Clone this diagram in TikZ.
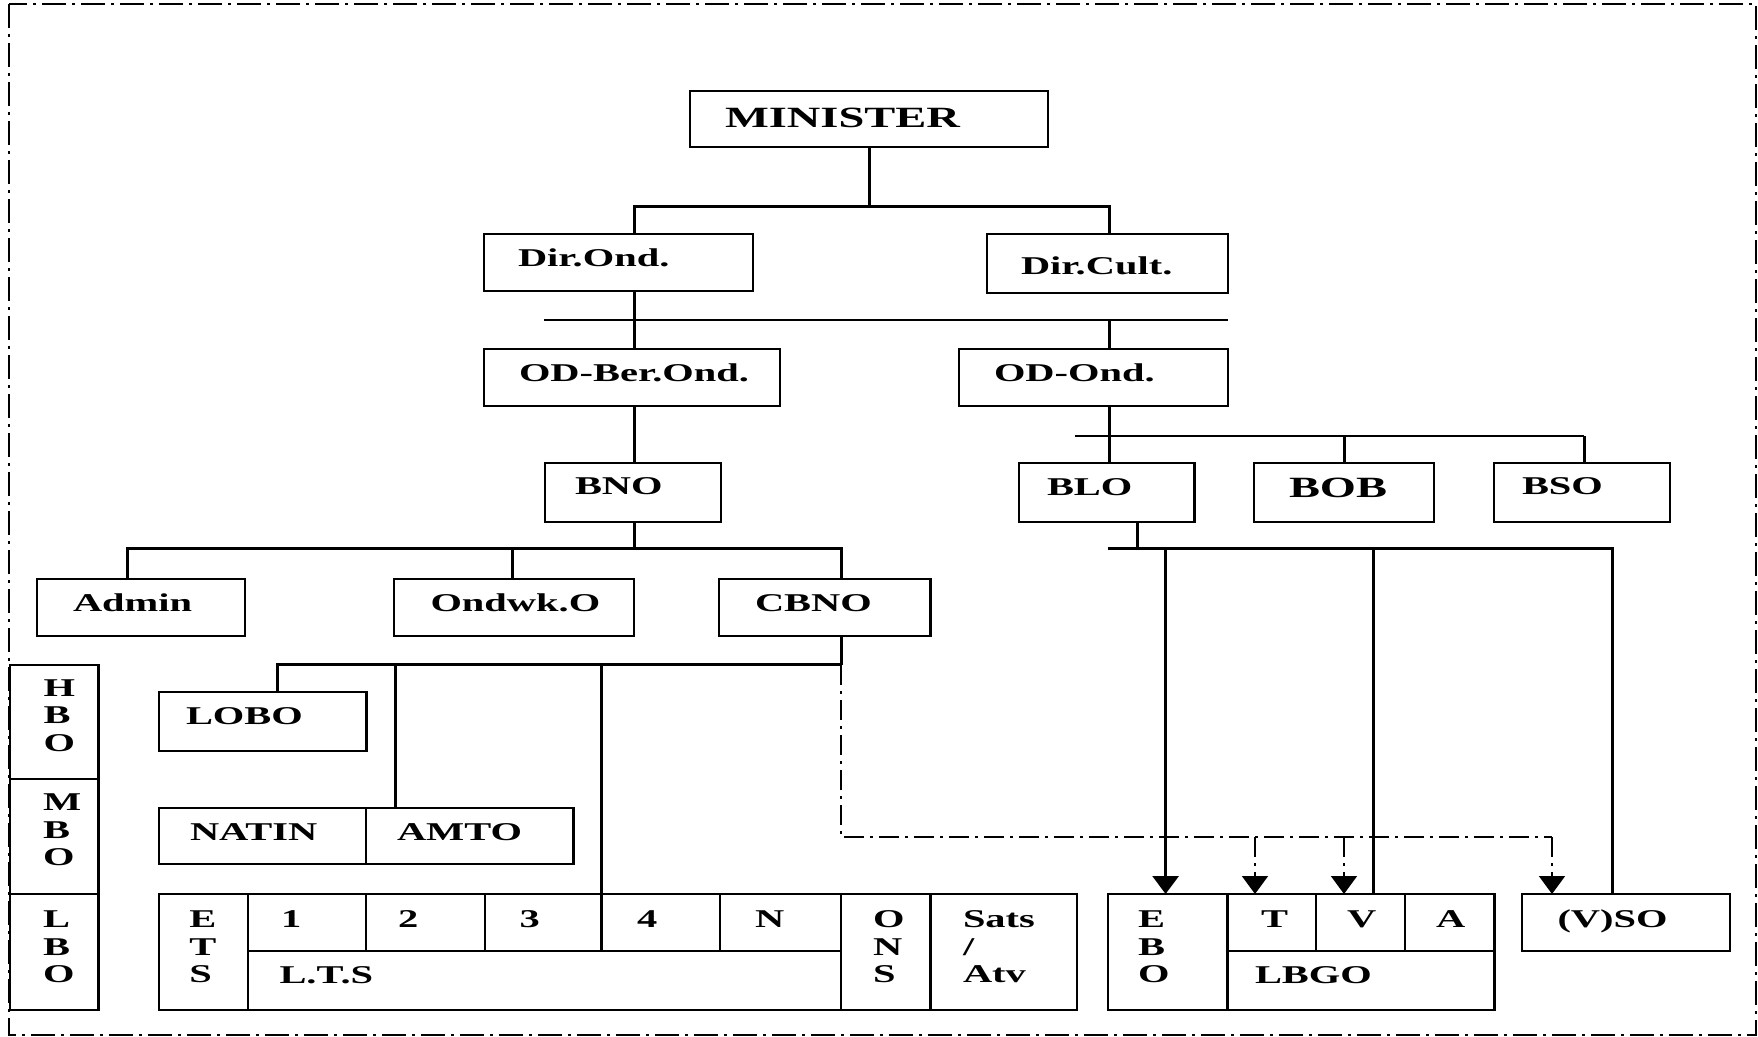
\documentclass[tikz,border=0pt]{standalone}
\usepackage{fontspec}
\setmainfont{Liberation Serif}
\usepackage{graphicx}
\usetikzlibrary{fit,arrows.meta}
\newcommand\widetxt[1]{\scalebox{1.58}[1]{#1}}
\begin{document}
\begin{tikzpicture}[x=0.5pt,y=-0.5pt,
  box/.style={draw, line width=1.45pt, inner sep=0pt, outer sep=0pt, rectangle},
  conn/.style={line width=1.5pt},
  thinln/.style={line width=0.9pt},
  dd/.style={line width=0.9pt, dash pattern=on 10pt off 3pt on 1.5pt off 3pt},
  frm/.style={line width=1pt, dash pattern=on 12pt off 3pt on 1.5pt off 3pt},
  arr/.style={-{Triangle[width=13pt,length=9pt]}},
  txt/.style={inner sep=0pt, outer sep=0pt, anchor=base west, font=\fontsize{12.8}{15}\selectfont\bfseries},
  txtbig/.style={txt, font=\fontsize{14.7}{17}\selectfont\bfseries}]
\useasboundingbox (0,0) rectangle (1758,1037);
\draw[frm] (9,4) rectangle (1756,1035);

% boxes
\node[box, fit={(690,91) (1048,147)}] (min) {};
\node[box, fit={(484,234) (753,291)}] (dirond) {};
\node[box, fit={(987,234) (1228,293)}] (dircult) {};
\node[box, fit={(484,349) (780,406)}] (odber) {};
\node[box, fit={(959,349) (1228,406)}] (odond) {};
\node[box, fit={(545,463) (721,522)}] (bno) {};
\node[box, fit={(1019,463) (1194.5,522)}] (blo) {};
\node[box, fit={(1254,463) (1434,522)}] (bob) {};
\node[box, fit={(1494,463) (1670,522)}] (bso) {};
\node[box, fit={(37,579) (245,636)}] (admin) {};
\node[box, fit={(394,579) (634,636)}] (ondwk) {};
\node[box, fit={(719,579) (930.5,636)}] (cbno) {};
\node[box, fit={(159,692) (366.7,751)}] (lobo) {};
\node[box, fit={(159,808) (366,864)}] (natin) {};
\node[box, fit={(366,808) (573.3,864)}] (amto) {};
\node[box, fit={(10,665) (98.7,779)}] (hbo) {};
\node[box, fit={(10,779) (98.7,894)}] (mbo) {};
\node[box, fit={(10,894) (98.7,1010)}] (lbo) {};
\node[box, fit={(159,894) (248,1010)}] (ets) {};
\node[box, fit={(248,894) (366,951)}] (c1) {};
\node[box, fit={(366,894) (485,951)}] (c2) {};
\node[box, fit={(485,894) (601.6,951)}] (c3) {};
\node[box, fit={(601.6,894) (720,951)}] (c4) {};
\node[box, fit={(720,894) (841,951)}] (cN) {};
\node[box, fit={(248,951) (841,1010)}] (lts) {};
\node[box, fit={(841,894) (930.5,1010)}] (ons) {};
\node[box, fit={(930.5,894) (1077,1010)}] (sats) {};
\node[box, fit={(1108,894) (1227.5,1010)}] (ebo) {};
\node[box, fit={(1227.5,894) (1316,951)}] (cT) {};
\node[box, fit={(1316,894) (1405,951)}] (cV) {};
\node[box, fit={(1405,894) (1494.5,951)}] (cA) {};
\node[box, fit={(1227.5,951) (1494.5,1010)}] (lbgo) {};
\node[box, fit={(1522,894) (1730,951)}] (vso) {};

% connectors
\draw[conn] (min.south) -- (min.south |- 0,207);
\draw[conn] (634,0 |- dirond.north) -- (634,207) -- (1109,207) -- (1109,0 |- dircult.north);
\draw[conn] (634,0 |- dirond.south) -- (634,0 |- odber.north);
\draw[thinln] (544,320) -- (1228,320);
\draw[conn] (1109,320) -- (1109,0 |- odond.north);
\draw[conn] (634,0 |- odber.south) -- (634,0 |- bno.north);
\draw[conn] (1109,0 |- odond.south) -- (1109,436);
\draw[thinln] (1075,436) -- (1584,436);
\draw[conn] (1109,436) -- (1109,0 |- blo.north);
\draw[conn] (1344.5,436) -- (1344.5,0 |- bob.north);
\draw[conn] (1584,436) -- (1584,0 |- bso.north);
\draw[conn] (634,0 |- bno.south) -- (634,549);
\draw[conn] (127,0 |- admin.north) -- (127,549) -- (841,549) -- (841,0 |- cbno.north);
\draw[conn] (512.6,549) -- (512.6,0 |- ondwk.north);
\draw[conn] (841,0 |- cbno.south) -- (841,665);
\draw[conn] (277,0 |- lobo.north) -- (277,665) -- (841,665);
\draw[conn] (395,665) -- (395,0 |- amto.north);
\draw[conn] (601.6,665) -- (601.6,0 |- c4.north);
\draw[dd] (841,665) -- (841,837) -- (1552,837);
\draw[dd,arr] (1255,837) -- (1255,0 |- cT.north);
\draw[dd,arr] (1344,837) -- (1344,0 |- cV.north);
\draw[dd,arr] (1552,837) -- (1552,0 |- vso.north);
\draw[conn] (1137,0 |- blo.south) -- (1137,549);
\draw[conn] (1107.6,549) -- (1612,549) -- (1612,0 |- vso.north);
\draw[conn,arr] (1165.6,549) -- (1165.6,0 |- ebo.north);
\draw[conn] (1373,549) -- (1373,0 |- cV.north);

% texts
\node[txtbig] (tmin) at (725,127.7) {\widetxt{MINISTER}};
\node[txt] (tdirond) at (518,266.3) {\widetxt{Dir.Ond.}};
\node[txt] (tdircult) at (1021,274.7) {\widetxt{Dir.Cult.}};
\node[txt] (todber) at (519,381.7) {\widetxt{OD-Ber.Ond.}};
\node[txt] (todond) at (994,381.7) {\widetxt{OD-Ond.}};
\node[txt] (tbno) at (575,495) {\widetxt{BNO}};
\node[txt] (tblo) at (1047,495.7) {\widetxt{BLO}};
\node[txtbig] (tbob) at (1289,497.7) {\widetxt{BOB}};
\node[txt] (tbso) at (1522,495) {\widetxt{BSO}};
\node[txt] (tadmin) at (73,611.7) {\widetxt{Admin}};
\node[txt] (tondwk) at (430.5,611.7) {\widetxt{Ondwk.O}};
\node[txt] (tcbno) at (755,611.7) {\widetxt{CBNO}};
\node[txt] (tlobo) at (186,724.3) {\widetxt{LOBO}};
\node[txt] (tnatin) at (190,840.7) {\widetxt{NATIN}};
\node[txt] (tamto) at (397,840.7) {\widetxt{AMTO}};
\node[txt] (th1) at (43.6,697) {\widetxt{H}};
\node[txt] (th2) at (43.6,724) {\widetxt{B}};
\node[txt] (th3) at (43.6,751) {\widetxt{O}};
\node[txt] (tm1) at (43,810) {\widetxt{M}};
\node[txt] (tm2) at (43,838) {\widetxt{B}};
\node[txt] (tm3) at (43,865) {\widetxt{O}};
\node[txt] (tl1) at (43,927) {\widetxt{L}};
\node[txt] (tl2) at (43,955) {\widetxt{B}};
\node[txt] (tl3) at (43,982) {\widetxt{O}};
\node[txt] (te1) at (189.4,927) {\widetxt{E}};
\node[txt] (te2) at (189.4,955) {\widetxt{T}};
\node[txt] (te3) at (189.4,982) {\widetxt{S}};
\node[txt] (tc1) at (281,927) {\widetxt{1}};
\node[txt] (tc2) at (398,927) {\widetxt{2}};
\node[txt] (tc3) at (519.5,927) {\widetxt{3}};
\node[txt] (tc4) at (637,927) {\widetxt{4}};
\node[txt] (tcN) at (755,927) {\widetxt{N}};
\node[txt] (tlts) at (279.5,983) {\widetxt{L.T.S}};
\node[txt] (to1) at (873,927) {\widetxt{O}};
\node[txt] (to2) at (873,955) {\widetxt{N}};
\node[txt] (to3) at (873,982) {\widetxt{S}};
\node[txt] (ts1) at (963,927) {\widetxt{Sats}};
\node[txt] (ts2) at (963,955) {\widetxt{/}};
\node[txt] (ts3) at (963,982) {\widetxt{Atv}};
\node[txt] (tb1) at (1138,927) {\widetxt{E}};
\node[txt] (tb2) at (1138,955) {\widetxt{B}};
\node[txt] (tb3) at (1138,982) {\widetxt{O}};
\node[txt] (tT) at (1261,927) {\widetxt{T}};
\node[txt] (tV) at (1347,927) {\widetxt{V}};
\node[txt] (tA) at (1436,927) {\widetxt{A}};
\node[txt] (tlbgo) at (1255,983) {\widetxt{LBGO}};
\node[txt] (tvso) at (1557.5,927) {\widetxt{(V)SO}};
\end{tikzpicture}
\end{document}
